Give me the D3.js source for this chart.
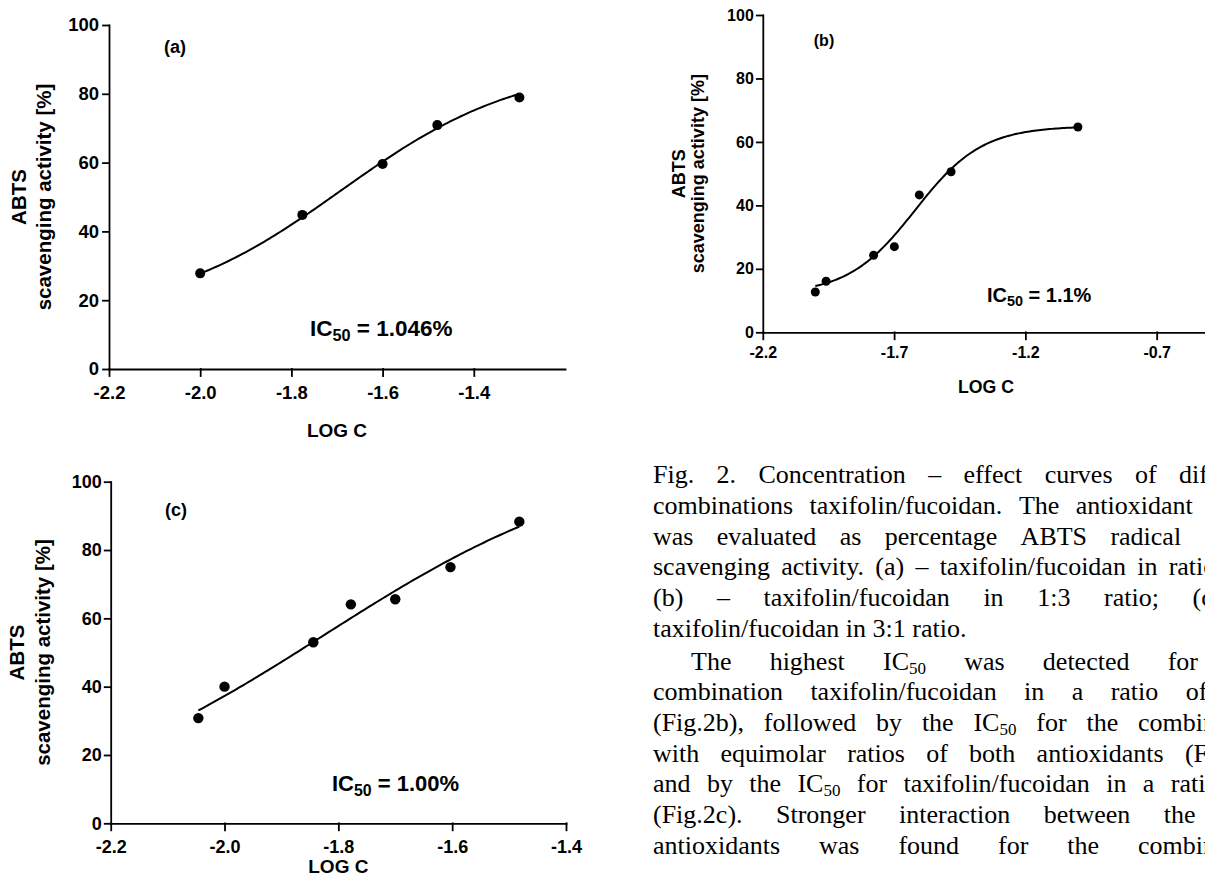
<!DOCTYPE html>
<html>
<head>
<meta charset="utf-8">
<script src="https://cdn.jsdelivr.net/npm/d3@7/dist/d3.min.js"></script>
<style>
  body { margin: 0; background: #fff; overflow: hidden; }
  svg { display: block; }
  .axis path, .axis line { stroke: #000; stroke-width: 1.8; }
  .axis text { font-family: 'Liberation Sans', Arial, sans-serif; font-weight: bold; fill: #000; }
  .lbl { font-family: 'Liberation Sans', Arial, sans-serif; font-weight: bold; fill: #000; }
  .cap { font-family: 'Liberation Serif', 'Times New Roman', serif; font-size: 26px; fill: #000; }
</style>
</head>
<body>
<div id="chart"></div>
<script>
const yTicks = [0, 20, 40, 60, 80, 100]

// (a) taxifolin/fucoidan 1:1
const logA = [-2.0, -1.776, -1.6, -1.48, -1.3]
const actA = [27.8, 44.8, 59.6, 70.9, 78.9]
const fitA = [15, 89, -1.69, 2.2] // bottom, top, logEC50, hill
const xTicksA = [-2.2, -2.0, -1.8, -1.6, -1.4]

// (b) taxifolin/fucoidan 1:3
const logB = [-2.0, -1.959, -1.778, -1.699, -1.604, -1.483, -1.0]
const actB = [12.7, 16.1, 24.3, 27.0, 43.3, 50.6, 64.7]
const fitB = [12, 65, -1.62, 3.4]
const xTicksB = [-2.2, -1.7, -1.2, -0.7]

// (c) taxifolin/fucoidan 3:1
const logC = [-2.046, -2.0, -1.844, -1.778, -1.70, -1.603, -1.482]
const actC = [30.8, 40.0, 53.0, 64.1, 65.6, 75.0, 88.3]
const fitC = [0, 110, -1.826, 1.67]
const xTicksC = [-2.2, -2.0, -1.8, -1.6, -1.4]

const panelNames = ['(a)', '(b)', '(c)']
const icValues = ['1.046%', '1.1%', '1.00%']

const captionLines = [
  'Fig. 2. Concentration – effect curves of different',
  'combinations taxifolin/fucoidan. The antioxidant effect',
  'was evaluated as percentage ABTS radical cation',
  'scavenging activity. (a) – taxifolin/fucoidan in ratio 1:1;',
  '(b) – taxifolin/fucoidan in 1:3 ratio; (c) –',
  'taxifolin/fucoidan in 3:1 ratio.',
  'The highest IC50 was detected for the',
  'combination taxifolin/fucoidan in a ratio of 1:3',
  '(Fig.2b), followed by the IC50 for the combination',
  'with equimolar ratios of both antioxidants (Fig.2a)',
  'and by the IC50 for taxifolin/fucoidan in a ratio 3:1',
  '(Fig.2c). Stronger interaction between the two',
  'antioxidants was found for the combination'
]

const W = 1205, H = 879

const svg = d3.select('#chart').append('svg')
  .attr('width', W)
  .attr('height', H)

const fourPL = (p) => (x) => p[0] + (p[1] - p[0]) / (1 + Math.pow(10, (p[2] - x) * p[3]))

const panels = [
  { name: panelNames[0], ic: icValues[0], log: logA, act: actA, fit: fitA, xTicks: xTicksA,
    xDomain: [-2.2, -1.2], xr: [109, 565], yr: [369, 25], r: 5,
    tickFont: 18.5, xLabY: 24, yPad: 4, titleFont: 20.5, titleX: [19, 44],
    nameXY: [175, 53], nameFont: 18, icXY: [310, 336], icFont: 22.5, logcY: 430, logcFont: 19 },
  { name: panelNames[1], ic: icValues[1], log: logB, act: actB, fit: fitB, xTicks: xTicksB,
    xDomain: [-2.2, -0.5], xr: [762.8, 1209.2], yr: [332.3, 15], r: 4.5,
    tickFont: 16, xLabY: 20, yPad: 3, titleFont: 18, titleX: [678.5, 697.7],
    nameXY: [824, 46], nameFont: 16, icXY: [987, 302], icFont: 20, logcY: 387, logcFont: 17.7 },
  { name: panelNames[2], ic: icValues[2], log: logC, act: actC, fit: fitC, xTicks: xTicksC,
    xDomain: [-2.2, -1.4], xr: [110.7, 566], yr: [823.3, 481.7], r: 5.2,
    tickFont: 18, xLabY: 23.5, yPad: 3, titleFont: 20.5, titleX: [17, 43],
    nameXY: [176, 516], nameFont: 18, icXY: [332, 791], icFont: 22, logcY: 866, logcFont: 19 }
]

panels.forEach((p) => {
  const x = d3.scaleLinear().domain(p.xDomain).range(p.xr)
  const y = d3.scaleLinear().domain([0, 100]).range(p.yr)
  const g = svg.append('g')

  const xAxisG = g.append('g').attr('class', 'axis')
    .attr('transform', `translate(0, ${p.yr[0]})`)
    .call(d3.axisBottom(x).tickValues(p.xTicks).tickSize(7).tickSizeOuter(0).tickFormat(d3.format('.1f')))
  xAxisG.selectAll('text')
    .attr('y', p.xLabY).attr('dy', '0.35em')
    .style('font-size', p.tickFont + 'px')
    .text((d) => d3.format('.1f')(d).replace('−', '-'))

  const yAxisG = g.append('g').attr('class', 'axis')
    .attr('transform', `translate(${p.xr[0]}, 0)`)
    .call(d3.axisLeft(y).tickValues(yTicks).tickSize(6).tickSizeOuter(0).tickPadding(p.yPad))
  yAxisG.selectAll('text').style('font-size', p.tickFont + 'px')
  xAxisG.selectAll('path, line').attr('stroke-linecap', 'square')
  yAxisG.selectAll('path, line').attr('stroke-linecap', 'square')

  // fitted curve
  const f = fourPL(p.fit)
  const lo = d3.min(p.log), hi = d3.max(p.log)
  const xs = d3.range(0, 121).map((i) => lo + (hi - lo) * i / 120)
  g.append('path')
    .datum(xs)
    .attr('fill', 'none')
    .attr('stroke', '#000')
    .attr('stroke-width', 2)
    .attr('d', d3.line().x((d) => x(d)).y((d) => y(f(d))))

  // points
  g.selectAll('circle')
    .data(p.log.map((d, i) => ({ lc: d, v: p.act[i] })))
    .join('circle')
    .attr('cx', (d) => x(d.lc))
    .attr('cy', (d) => y(d.v))
    .attr('r', p.r)
    .attr('fill', '#000')

  // y title
  const cy = (p.yr[0] + p.yr[1]) / 2
  ;['ABTS', 'scavenging activity [%]'].forEach((t, i) => {
    g.append('text').attr('class', 'lbl')
      .attr('transform', `translate(${p.titleX[i]}, ${cy}) rotate(-90)`)
      .attr('text-anchor', 'middle')
      .attr('dy', '0.35em')
      .style('font-size', p.titleFont + 'px')
      .text(t)
  })

  // x title
  g.append('text').attr('class', 'lbl')
    .attr('x', (p.xr[0] + p.xr[1]) / 2)
    .attr('y', p.logcY)
    .attr('dy', '0.35em')
    .attr('text-anchor', 'middle')
    .style('font-size', p.logcFont + 'px')
    .text('LOG C')

  g.append('text').attr('class', 'lbl')
    .attr('x', p.nameXY[0]).attr('y', p.nameXY[1])
    .attr('text-anchor', 'middle')
    .style('font-size', p.nameFont + 'px')
    .text(p.name)

  const ic = g.append('text').attr('class', 'lbl')
    .attr('x', p.icXY[0]).attr('y', p.icXY[1])
    .style('font-size', p.icFont + 'px')
  ic.append('tspan').text('IC')
  ic.append('tspan').attr('dy', p.icFont * 0.22).style('font-size', (p.icFont * 0.72) + 'px').text('50')
  ic.append('tspan').attr('dy', -p.icFont * 0.22).text(' = ' + p.ic)
})

// caption, justified word by word
const capLeft = 653, capWidth = 615
captionLines.forEach((line, i) => {
  const base = 483.3 + i * 30.7 + (i >= 6 ? 2 : 0)
  const left = capLeft + (i === 6 ? 38 : 0)
  const width = capWidth - (i === 6 ? 38 : 0)
  const words = line.split(' ')
  const nodes = words.map((w) => {
    const t = svg.append('text').attr('class', 'cap').attr('y', base)
    if (w.startsWith('IC50')) {
      t.append('tspan').text('IC')
      t.append('tspan').attr('dy', 4).style('font-size', '17px').text('50')
      if (w.length > 4) t.append('tspan').attr('dy', -4).text(w.slice(4))
    } else {
      t.text(w)
    }
    return t
  })
  const widths = nodes.map((t) => t.node().getComputedTextLength())
  const total = d3.sum(widths)
  const space = 6.5
  let gap = space
  if (i !== 5 && words.length > 1) gap = Math.max(space * 0.6, (width - total) / (words.length - 1))
  let cx = left
  nodes.forEach((t, k) => {
    t.attr('x', cx)
    cx += widths[k] + gap
  })
})
</script>
</body>
</html>
